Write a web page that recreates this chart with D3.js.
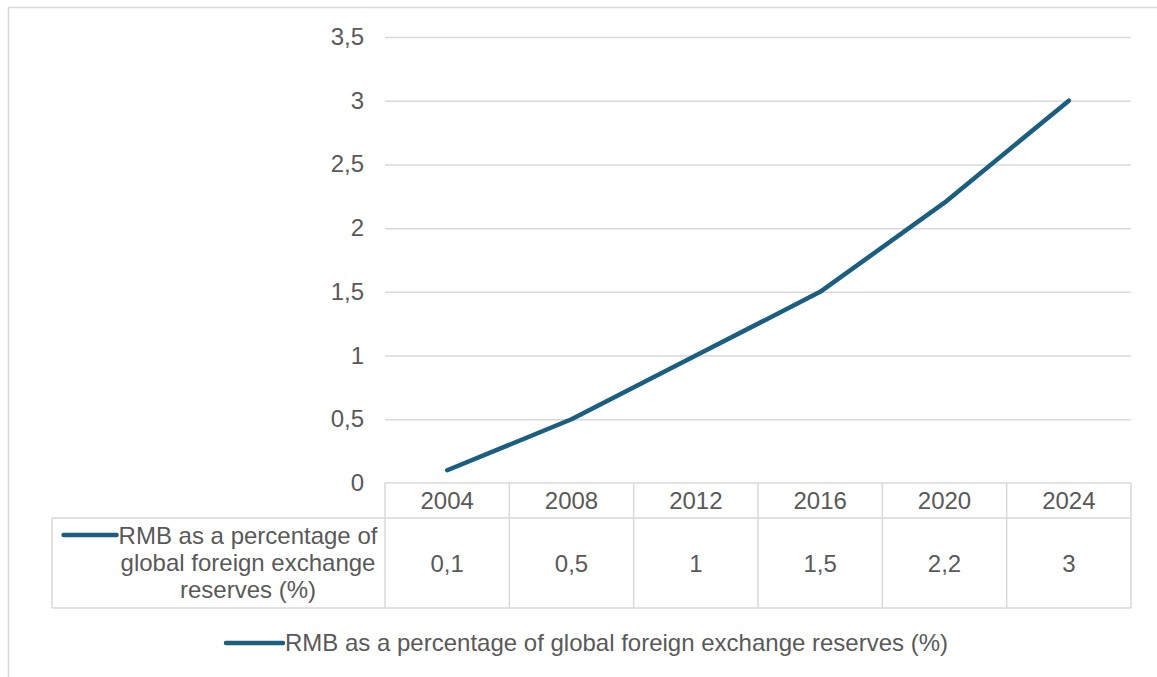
<!DOCTYPE html>
<html>
<head>
<meta charset="utf-8">
<script src="https://cdn.jsdelivr.net/npm/d3@7"></script>
<style>
  html, body { margin: 0; padding: 0; background: #fff; }
  svg { display: block; font-family: "Liberation Sans", Arial, sans-serif; }
</style>
</head>
<body>
<svg id="chart" width="1157" height="677"></svg>
<script>
// Share of the renminbi in global FX reserves
const years = ["2004", "2008", "2012", "2016", "2020", "2024"];
const values = [0.1, 0.5, 1, 1.5, 2.2, 3];
const valueLabels = ["0,1", "0,5", "1", "1,5", "2,2", "3"];
const yTicks = [0, 0.5, 1, 1.5, 2, 2.5, 3, 3.5];
const seriesName = "RMB as a percentage of global foreign exchange reserves (%)";
const seriesNameLines = ["RMB as a percentage of", "global foreign exchange", "reserves (%)"];

const lineColor = "#1a5e80";
const textColor = "#595959";
const gridColor = "#d9d9d9";
const fontSize = 24;

const svg = d3.select("#chart");

// outer chart frame
svg.append("path")
  .attr("d", "M8.5,677 V7.5 H1157")
  .attr("fill", "none")
  .attr("stroke", gridColor)
  .attr("stroke-width", 1.5);

const plot = { left: 385, right: 1131, top: 37, bottom: 483 };

const x = d3.scaleBand().domain(years).range([plot.left, plot.right]);
const y = d3.scaleLinear().domain([0, 3.5]).range([plot.bottom, plot.top]);

// horizontal gridlines
svg.append("g")
  .selectAll("line")
  .data(yTicks.filter(t => t > 0))
  .join("line")
  .attr("x1", plot.left).attr("x2", plot.right)
  .attr("y1", d => y(d) + 0.5).attr("y2", d => y(d) + 0.5)
  .attr("stroke", gridColor).attr("stroke-width", 1.5);

// y axis labels
const fmt = d => String(d).replace(".", ",");
svg.append("g")
  .selectAll("text")
  .data(yTicks)
  .join("text")
  .attr("x", 364)
  .attr("y", d => y(d) + 8)
  .attr("text-anchor", "end")
  .attr("font-size", fontSize)
  .attr("fill", textColor)
  .text(fmt);

// data table
const rowTop = plot.bottom, rowMid = 518, rowBot = 608, tableLeft = 52;
const tbl = svg.append("g").attr("stroke", gridColor).attr("stroke-width", 1.5).attr("fill", "none");
tbl.append("line").attr("x1", plot.left).attr("x2", plot.right).attr("y1", rowTop).attr("y2", rowTop);
tbl.append("line").attr("x1", tableLeft).attr("x2", plot.right).attr("y1", rowMid).attr("y2", rowMid);
tbl.append("line").attr("x1", tableLeft).attr("x2", plot.right).attr("y1", rowBot).attr("y2", rowBot);
tbl.append("line").attr("x1", tableLeft).attr("x2", tableLeft).attr("y1", rowMid).attr("y2", rowBot);
tbl.selectAll("line.col")
  .data(years.map(d => x(d)).concat([plot.right]))
  .join("line")
  .attr("class", "col")
  .attr("x1", d => d).attr("x2", d => d)
  .attr("y1", rowTop).attr("y2", rowBot);

// category labels (header row)
svg.append("g")
  .selectAll("text")
  .data(years)
  .join("text")
  .attr("x", d => x(d) + x.bandwidth() / 2)
  .attr("y", 509)
  .attr("text-anchor", "middle")
  .attr("font-size", fontSize)
  .attr("fill", textColor)
  .text(d => d);

// value cells
svg.append("g")
  .selectAll("text")
  .data(years)
  .join("text")
  .attr("x", d => x(d) + x.bandwidth() / 2)
  .attr("y", 572)
  .attr("text-anchor", "middle")
  .attr("font-size", fontSize)
  .attr("fill", textColor)
  .text((d, i) => valueLabels[i]);

// row header with legend key
const rowHeader = svg.append("g");
const rowText = rowHeader.append("text")
  .attr("text-anchor", "middle")
  .attr("font-size", fontSize)
  .attr("fill", textColor);
seriesNameLines.forEach((s, i) => {
  rowText.append("tspan")
    .attr("x", 248)
    .attr("y", 544 + i * 27)
    .text(s);
});
const firstLine = rowText.select("tspan").node();
const firstW = firstLine.getComputedTextLength();
const firstStart = 248 - firstW / 2;
rowHeader.append("line")
  .attr("x1", firstStart - 55).attr("x2", firstStart - 2)
  .attr("y1", 535).attr("y2", 535)
  .attr("stroke", lineColor).attr("stroke-width", 4.5).attr("stroke-linecap", "round");

// series line
const lineGen = d3.line()
  .x((d, i) => x(years[i]) + x.bandwidth() / 2)
  .y(d => y(d));
svg.append("path")
  .datum(values)
  .attr("d", lineGen)
  .attr("fill", "none")
  .attr("stroke", lineColor)
  .attr("stroke-width", 4.5)
  .attr("stroke-linecap", "round")
  .attr("stroke-linejoin", "round");

// legend
const legend = svg.append("g");
const legText = legend.append("text")
  .attr("y", 651)
  .attr("font-size", fontSize)
  .attr("fill", textColor)
  .text(seriesName);
const legW = legText.node().getComputedTextLength();
const keyW = 57;
const totalW = keyW + 2 + legW;
const legStart = 587 - totalW / 2;
legText.attr("x", legStart + keyW + 2);
legend.append("line")
  .attr("x1", legStart).attr("x2", legStart + keyW)
  .attr("y1", 643).attr("y2", 643)
  .attr("stroke", lineColor).attr("stroke-width", 4.5).attr("stroke-linecap", "round");
</script>
</body>
</html>
